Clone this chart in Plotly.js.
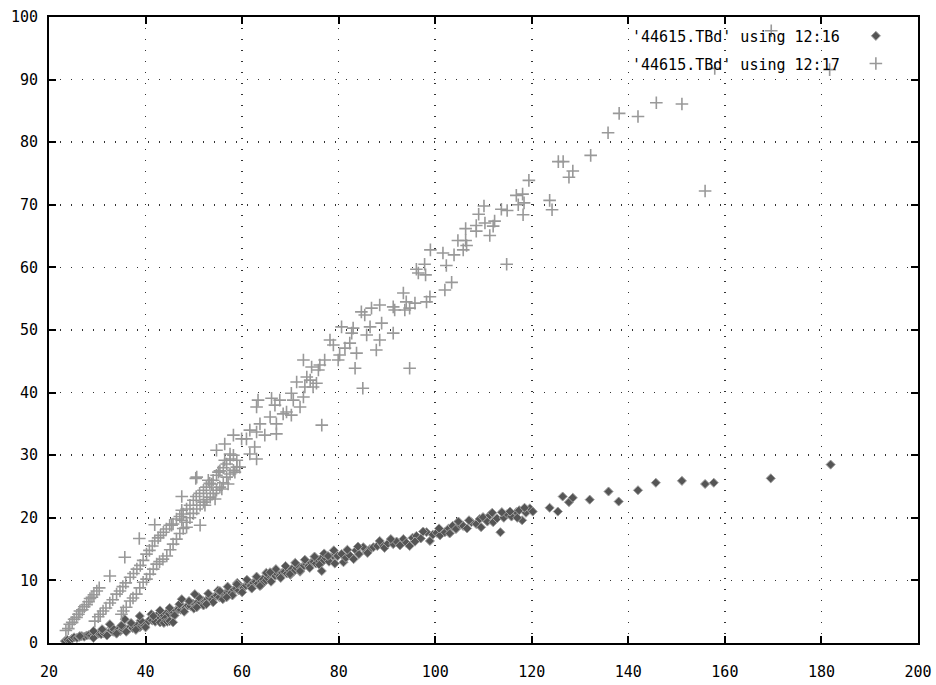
<!DOCTYPE html>
<html>
<head>
<meta charset="utf-8">
<script src="https://cdn.plot.ly/plotly-3.0.1.min.js"></script>
<style>
  html, body { margin: 0; padding: 0; background: #ffffff; }
  #chart { width: 936px; height: 685px; }
</style>
</head>
<body>
<div id="chart"></div>
<script>
// Column 12 against column 16 (diamonds)
const x16 = [
  23.3,23.8,24.3,24.8,25.2,25.8,26.3,26.8,27.3,27.8,28.3,28.8,29.3,29.8,30.3,30.8,31.3,31.8,32.3,32.8,
  33.3,33.8,34.3,34.8,35.3,35.8,36.3,36.8,37.3,37.8,38.3,38.8,39.3,39.8,40.2,40.6,41.0,41.4,41.8,42.3,
  42.8,43.3,43.8,44.3,44.8,45.3,45.8,46.3,46.8,47.3,47.8,48.3,48.8,49.3,49.8,50.3,50.8,51.3,51.8,52.3,
  52.8,53.3,53.8,54.3,54.8,55.3,55.8,56.3,56.8,57.3,57.8,58.3,58.8,59.3,59.8,60.3,60.8,61.3,61.8,62.3,
  62.8,63.3,63.8,64.3,64.8,65.3,65.8,66.3,66.8,67.3,67.8,68.3,68.8,69.3,69.8,70.3,70.8,71.3,71.8,72.3,
  72.8,73.3,73.8,74.3,74.8,75.3,75.8,76.3,76.8,77.3,77.8,78.3,78.8,79.3,79.8,
  31.0,33.0,35.0,37.0,39.0,41.2,43.0,45.0,47.0,49.0,51.0,53.0,55.0,57.0,59.0,61.0,63.0,65.0,67.0,69.0,
  71.0,73.0,75.0,77.0,79.0,
  32.0,34.0,36.0,38.0,40.0,42.0,44.0,46.0,48.0,50.0,52.0,54.0,56.0,58.0,60.0,62.0,64.0,66.0,68.0,70.0,
  72.0,74.0,76.0,78.0,
  80.6,81.0,81.5,82.3,83.1,83.6,84.2,85.1,85.8,86.5,87.2,88.0,88.9,89.5,90.2,91.3,92.0,93.4,94.0,94.7,
  95.3,96.1,97.0,98.2,98.9,99.5,100.3,101.0,102.0,102.8,103.6,104.3,105.1,105.8,106.6,107.5,108.5,109.2,109.9,110.8,
  111.3,112.0,112.8,113.5,114.2,114.9,115.8,116.8,117.4,118.0,118.8,119.6,120.2,
  81.8,84.0,86.0,88.5,90.8,92.7,95.8,97.5,100.8,103.0,104.8,107.0,109.5,111.8,113.8,115.5,117.0,118.5,
  123.7,125.4,126.4,127.7,128.5,132.0,135.9,138.0,142.0,145.7,151.1,155.9,157.7,169.5,181.9,
  26.4,29.2,29.2,32.6,35.7,38.8,41.6,43.0,43.8,44.5,45.0,45.7,47.5,50.2,50.6,52.6,55.4,56.8,58.9,
  63.7,65.8,69.9,72.0,76.5,77.8,79.2
];
const y16 = [
  0.3,0.5,0.4,0.7,0.9,0.8,1.0,1.1,1.0,1.2,1.3,1.2,1.4,1.3,1.5,1.4,1.6,1.7,1.6,1.9,
  1.8,2.0,2.1,1.9,2.2,2.3,2.1,2.5,2.4,2.6,2.8,2.5,3.0,2.8,3.2,3.5,3.8,3.6,4.1,4.3,
  4.0,4.5,4.4,4.7,4.6,5.0,4.9,5.2,5.4,5.3,5.7,5.6,6.0,5.9,6.3,6.1,6.5,6.4,6.8,6.6,
  7.0,7.2,6.9,7.4,7.6,7.3,7.9,7.7,8.1,8.3,8.0,8.5,8.7,8.4,9.0,8.8,9.2,9.4,9.1,9.6,
  9.8,9.5,10.0,10.2,9.9,10.4,10.6,10.3,10.8,11.0,10.7,11.2,11.4,11.1,11.6,11.8,11.5,12.0,12.2,11.9,
  12.4,12.6,12.3,12.8,13.0,12.7,13.2,13.4,13.1,13.6,13.8,13.5,14.0,14.2,13.9,
  2.2,2.5,2.8,3.2,3.6,4.6,5.2,5.6,6.2,6.7,7.3,7.9,8.4,9.0,9.6,10.1,10.6,11.2,11.8,12.3,
  12.8,13.3,13.8,14.3,14.8,
  1.2,1.5,1.8,2.1,2.5,3.4,3.9,4.4,5.0,5.5,6.0,6.5,7.0,7.6,8.1,8.7,9.3,9.8,10.4,10.9,
  11.4,12.0,12.5,13.0,
  14.2,12.9,13.6,14.0,13.4,14.8,14.2,15.3,14.5,15.0,15.3,15.5,15.8,15.2,15.9,15.8,16.2,16.6,16.0,15.5,
  16.8,17.1,16.7,17.7,16.3,17.3,17.6,17.2,17.7,18.3,18.7,18.2,18.9,18.7,18.3,19.3,19.0,19.8,20.1,19.4,
  20.4,19.3,19.9,17.7,20.0,20.6,20.2,20.9,21.2,19.6,20.8,21.5,21.0,
  14.9,15.4,14.4,16.3,16.6,15.6,16.2,17.8,18.3,17.5,19.4,19.6,18.5,20.8,20.9,21.0,20.0,21.6,
  21.6,21.0,23.4,22.5,23.2,22.9,24.2,22.6,24.4,25.6,25.9,25.4,25.6,26.3,28.5,
  1.1,0.8,1.9,3.0,3.8,4.3,4.3,3.3,3.2,3.4,3.5,3.3,7.0,7.8,5.7,6.2,8.3,7.3,9.4,
  9.1,11.3,11.0,11.5,11.5,13.9,12.7
];

// Column 12 against column 17 (crosses)
const x17 = [
  23.5,24.0,24.3,24.8,25.2,25.7,26.1,26.4,26.9,27.3,27.8,28.2,28.5,28.9,29.3,29.9,30.4,32.6,35.7,38.7,41.9,47.5,50.4,54.7,
  29.5,30.2,30.6,31.2,31.8,32.6,33.2,34.0,34.7,35.3,35.9,36.8,37.5,38.2,38.9,39.5,40.2,40.8,41.4,41.9,
  42.6,43.1,43.7,44.3,45.0,45.7,46.4,47.1,47.8,47.5,48.5,49.2,49.9,50.5,51.2,52.0,52.6,53.3,53.7,54.0,
  54.7,55.4,56.1,56.8,57.5,58.2,
  35.0,35.4,36.0,36.8,37.4,38.1,38.8,39.5,40.2,40.9,41.6,42.3,42.9,43.6,44.4,45.1,45.7,46.4,47.1,47.8,
  48.5,48.5,49.2,49.9,50.6,51.3,52.0,52.3,52.7,53.4,54.0,54.4,54.7,55.4,55.8,56.1,57.1,56.8,57.5,58.2,
  58.5,58.9,59.5,
  45.4,47.5,51.3,50.6,53.0,55.1,56.4,56.4,57.5,58.2,58.9,59.9,
  60.9,61.6,61.6,62.6,63.0,63.0,63.7,63.0,63.3,64.7,65.8,66.1,66.8,67.1,67.1,67.8,68.5,69.2,70.2,70.2,
  70.6,71.3,72.0,72.7,72.7,73.0,73.4,74.1,74.4,74.7,75.4,75.8,76.1,76.5,77.1,78.2,78.9,79.9,80.2,80.6,
  81.3,82.3,82.7,83.0,83.7,83.4,84.7,85.0,85.4,85.8,86.5,86.8,87.8,88.5,88.5,88.9,91.3,91.3,91.6,93.4,
  94.0,95.8,93.7,94.7,94.7,98.2,98.9,102.0,103.4,96.1,96.5,97.8,98.0,99.0,101.6,102.3,103.9,104.7,106.3,106.5,
  105.8,106.3,108.5,108.5,109.0,110.3,110.1,111.3,112.0,112.3,114.8,113.7,114.9,116.8,117.2,118.1,118.4,118.2,119.4,123.7,
  124.2,125.5,126.5,127.7,128.5,132.2,135.8,138.1,142.0,145.8,151.1,155.9,157.9,169.6,181.7
];
const y17 = [
  2.0,2.3,3.0,3.3,3.8,4.1,4.6,5.1,5.3,5.8,6.1,6.6,7.1,7.3,7.7,8.3,8.8,10.7,13.7,16.7,18.9,23.4,26.3,30.8,
  3.5,4.2,4.6,5.1,5.6,6.4,6.9,7.8,8.3,9.0,9.6,10.5,11.1,11.8,12.4,13.2,14.2,14.8,15.5,16.3,
  16.8,17.2,17.7,18.2,18.8,19.0,19.8,20.2,20.6,21.2,21.4,22.0,22.8,23.4,23.9,24.4,24.9,25.5,25.4,26.0,
  26.8,27.5,28.0,28.6,29.4,30.0,
  4.6,5.1,5.7,6.7,7.2,7.8,8.8,9.7,10.2,11.0,11.8,12.6,13.0,13.4,13.9,14.9,15.8,16.6,17.5,18.3,
  18.5,19.3,20.0,20.7,21.4,22.0,22.5,22.0,22.9,23.3,23.9,23.0,24.4,24.9,24.6,25.6,25.4,26.5,27.0,27.6,
  27.3,28.1,28.1,
  18.8,19.6,18.8,26.5,26.0,27.3,29.2,31.8,30.2,33.2,29.2,32.6,
  32.6,30.2,34.0,31.3,29.4,33.7,35.0,37.7,38.8,33.2,36.1,39.1,38.0,35.0,33.4,38.8,36.6,36.9,39.9,36.4,
  38.8,41.7,37.7,39.3,45.2,40.9,42.5,42.0,44.1,40.9,41.5,43.6,44.4,34.8,45.2,48.4,47.6,45.2,46.0,50.5,
  47.1,47.9,49.5,50.3,46.3,43.9,52.9,40.7,52.4,49.2,50.5,53.5,46.8,48.4,54.0,51.1,53.7,49.5,53.2,55.9,
  54.5,54.3,53.2,53.5,43.9,54.5,55.3,56.4,57.6,59.7,59.1,60.5,58.8,62.8,62.3,60.3,62.0,64.3,64.3,63.5,
  62.8,66.2,65.8,66.7,68.5,67.1,69.8,65.1,66.6,67.4,60.5,69.3,69.1,71.5,70.0,71.7,70.3,68.4,73.9,70.7,
  69.2,76.9,76.9,74.4,75.4,77.9,81.5,84.6,84.1,86.3,86.1,72.2,91.8,97.8,91.6
];

const seriesNames = ["'44615.TBd' using 12:16", "'44615.TBd' using 12:17"];
const xTicks = [20, 40, 60, 80, 100, 120, 140, 160, 180, 200];
const yTicks = [0, 10, 20, 30, 40, 50, 60, 70, 80, 90, 100];

const mono = "DejaVu Sans Mono, Liberation Mono, monospace";

const traces = [
  {
    x: x16, y: y16, type: 'scatter', mode: 'markers', name: ' ',
    marker: { symbol: 'diamond', size: 7, color: '#555555', line: { color: '#a0a0a0', width: 1 } }
  },
  {
    x: x17, y: y17, type: 'scatter', mode: 'markers', name: ' ',
    marker: { symbol: 'cross-thin-open', size: 9, color: '#999999', line: { color: '#999999', width: 1.6 } }
  }
];

const axisCommon = {
  ticks: 'inside', ticklen: 7, tickwidth: 2, tickcolor: '#000000',
  showline: true, linewidth: 2, linecolor: '#000000', mirror: 'ticks',
  showgrid: true, gridcolor: '#333333', gridwidth: 1.5, griddash: '1px,10px',
  zeroline: false,
  tickfont: { family: mono, size: 15, color: '#000000' }
};

const layout = {
  width: 936, height: 685,
  margin: { l: 49, r: 18, t: 17, b: 42, pad: 0 },
  paper_bgcolor: '#ffffff', plot_bgcolor: '#ffffff',
  showlegend: true,
  legend: {
    x: 0.9285, y: 1.0, xanchor: 'left', yanchor: 'top',
    bgcolor: 'rgba(0,0,0,0)', borderwidth: 0,
    font: { family: mono, size: 19, color: '#000000' }
  },
  xaxis: Object.assign({}, axisCommon, {
    range: [20, 200], tickvals: xTicks, ticklabelstandoff: 14
  }),
  yaxis: Object.assign({}, axisCommon, {
    range: [0, 100], tickvals: yTicks, ticklabelstandoff: 6
  }),
  annotations: seriesNames.map((t, i) => ({
    text: t, xref: 'paper', yref: 'paper',
    x: 0.9125, y: [0.9685, 0.9233][i], xanchor: 'right', yanchor: 'middle',
    showarrow: false, font: { family: mono, size: 15, color: '#000000' }
  }))
};

Plotly.newPlot('chart', traces, layout, { staticPlot: true, displayModeBar: false });
</script>
</body>
</html>
